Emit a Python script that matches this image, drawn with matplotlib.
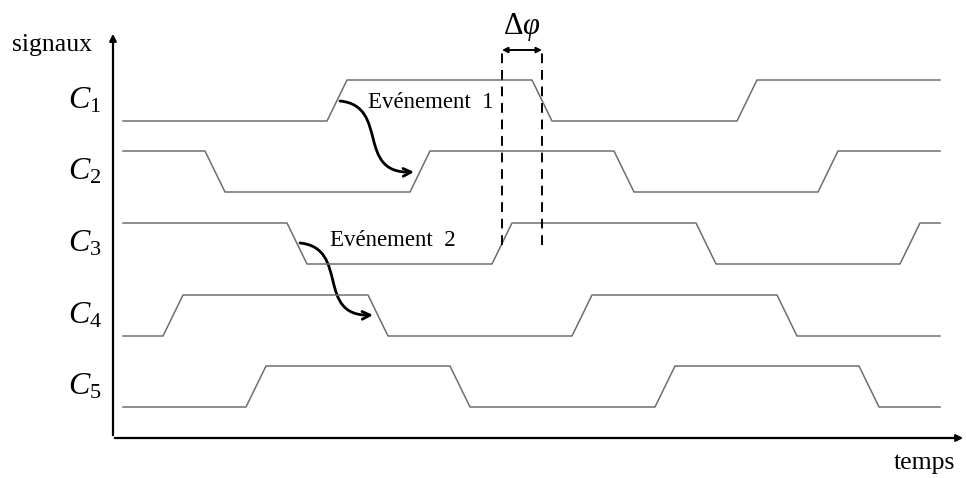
import matplotlib
matplotlib.use("Agg")
import matplotlib.pyplot as plt
from matplotlib.patches import FancyArrowPatch
from matplotlib.path import Path

plt.rcParams['font.family'] = ['Liberation Serif', 'DejaVu Serif']
plt.rcParams['mathtext.fontset'] = 'custom'
plt.rcParams['mathtext.rm'] = 'Liberation Serif'
plt.rcParams['mathtext.it'] = 'Liberation Serif:italic'

# signal data (time units, level units)
names = ['$C_1$', '$C_2$', '$C_3$', '$C_4$', '$C_5$']
start_level = [0, 1, 1, 0, 0]
edges = [[214, 419, 624],
         [92, 297, 501, 705],
         [174, 379, 583, 787],
         [50, 255, 459, 664],
         [133, 337, 542, 746]]
base = [317, 246, 174, 102, 31]
amp = 41
t_start, t_end = 10, 827
rise = 20

# events: (label, text pos, arrow start, arrow end)
event_labels = ['Evénement  1', 'Evénement  2']
event_text = [(255, 336), (217, 198)]
event_from = [(227, 337), (187, 195)]
event_to = [(301, 266), (260, 123)]


def waveform(level, edg):
    xs, ys = [t_start], [level]
    for e in edg:
        xs += [e, e + rise]
        ys += [level, 1 - level]
        level = 1 - level
    xs.append(t_end)
    ys.append(level)
    return xs, ys


fig = plt.figure(figsize=(9.66, 4.78), dpi=100)
ax = fig.add_axes([0, 0, 1, 1])
ax.set_xlim(-113, 853)
ax.set_ylim(-40, 438)
ax.axis('off')

for i in range(len(names)):
    xs, ys = waveform(start_level[i], edges[i])
    ax.plot(xs, [base[i] + amp * y for y in ys], color='#6e6e6e', lw=1.1)
    ax.text(-28, base[i] + amp / 2, names[i], fontsize=23, ha='center', va='center')

# axes arrows
ax.annotate('', xy=(0, 407), xytext=(0, 0),
            arrowprops=dict(arrowstyle='-|>', color='black', lw=1.6, mutation_scale=10))
ax.annotate('', xy=(853, 0), xytext=(-1, 0),
            arrowprops=dict(arrowstyle='-|>', color='black', lw=1.6, mutation_scale=10))
ax.text(-61, 393, 'signaux', fontsize=18.5, ha='center', va='center')
ax.text(811, -25, 'temps', fontsize=18.5, ha='center', va='center')

# phase shift between C3 rise and C1 fall
x_a = edges[2][1] + rise / 2
x_b = edges[0][1] + rise / 2
for xv in (x_a, x_b):
    ax.plot([xv, xv], [193, 388], color='black', lw=1.4, ls=(0, (5, 3.5)))
ax.annotate('', xy=(x_a, 388), xytext=(x_b, 388),
            arrowprops=dict(arrowstyle='<|-|>', color='black', lw=1.4, mutation_scale=8,
                            shrinkA=0, shrinkB=0))
ax.text((x_a + x_b) / 2, 411, r'$\Delta\varphi$', fontsize=22, ha='center', va='center')

# event curved arrows
for lab, tp, p0, p3 in zip(event_labels, event_text, event_from, event_to):
    p1 = (p0[0] + 50, p0[1] - 5)
    p2 = (p0[0] + 15, p3[1] - 2)
    path = Path([p0, p1, p2, p3], [Path.MOVETO, Path.CURVE4, Path.CURVE4, Path.CURVE4])
    ax.add_patch(FancyArrowPatch(path=path, arrowstyle='->', color='black', lw=2,
                                 mutation_scale=14))
    ax.text(tp[0], tp[1], lab, fontsize=16.5, ha='left', va='center')

fig.savefig('out.png', dpi=100)
